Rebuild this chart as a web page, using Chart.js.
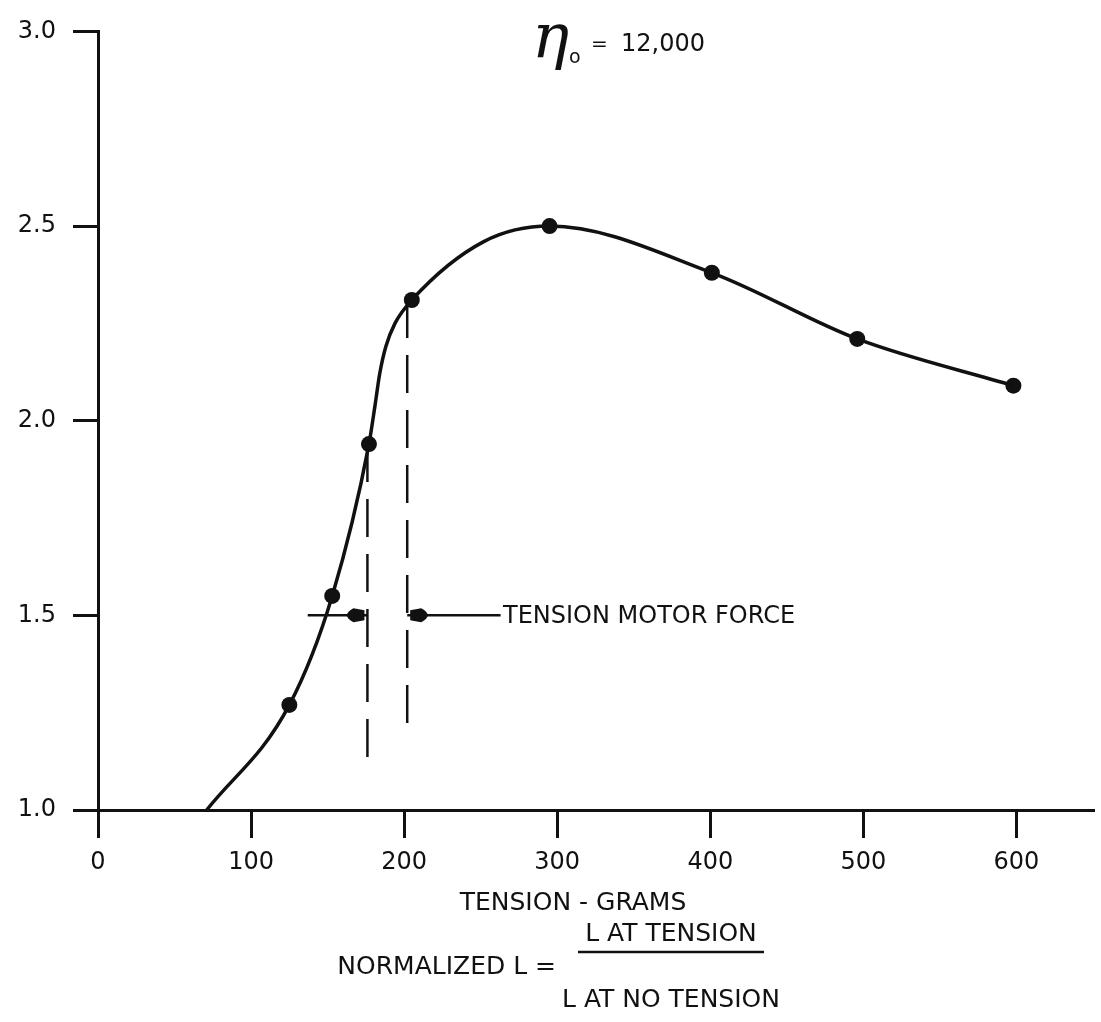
<!DOCTYPE html>
<html>
<head>
<meta charset="utf-8">
<script src="https://cdn.jsdelivr.net/npm/chart.js@4.4.1/dist/chart.umd.min.js"></script>
<style>
  html, body { margin: 0; padding: 0; background: #fff; }
</style>
</head>
<body>
<canvas id="tensionChart" width="1101" height="1022"></canvas>
<script>
// measured points (dots)
const tension = [125, 153, 177, 205, 295, 401, 496, 598];
const normalizedL = [1.27, 1.55, 1.94, 2.31, 2.50, 2.38, 2.21, 2.09];

// faired curve
const curveTension = [71, 125, 153, 177, 181, 184, 188, 194, 205, 252, 295, 401, 496, 598];
const curveL = [1.00, 1.27, 1.55, 1.94, 2.04, 2.12, 2.19, 2.25, 2.31, 2.46, 2.50, 2.38, 2.21, 2.09];

const xTicks = [0, 100, 200, 300, 400, 500, 600];
const yTicks = [1.0, 1.5, 2.0, 2.5, 3.0];

// tension motor force markers
const markerTension = [176, 202];
const markerTop = [1.94, 2.31];
const markerBottom = [1.12, 1.19];
const arrowLevel = 1.5;
const arrowFrom = [137, 263];
const arrowTo = [176, 202];

const INK = '#111';
const FONT = '"DejaVu Sans", sans-serif';

const datasets = [
  {
    data: curveTension.map((x, i) => ({ x: x, y: curveL[i] })),
    borderColor: INK,
    borderWidth: 3.5,
    pointRadius: 0,
    cubicInterpolationMode: 'monotone',
    fill: false
  },
  {
    data: tension.map((x, i) => ({ x: x, y: normalizedL[i] })),
    showLine: false,
    pointRadius: 8,
    pointBackgroundColor: INK,
    pointBorderWidth: 0
  }
];

markerTension.forEach((x, i) => {
  datasets.push({
    data: [{ x: x, y: markerTop[i] }, { x: x, y: markerBottom[i] }],
    borderColor: INK,
    borderWidth: 2.5,
    borderDash: [38, 17],
    pointRadius: 0
  });
});

arrowFrom.forEach((x, i) => {
  datasets.push({
    data: [{ x: x, y: arrowLevel }, { x: arrowTo[i], y: arrowLevel }],
    borderColor: INK,
    borderWidth: 2.5,
    pointRadius: 0
  });
});

const annotations = {
  id: 'annotations',
  afterDatasetsDraw(chart) {
    const ctx = chart.ctx;
    const xs = chart.scales.x;
    const ys = chart.scales.y;
    ctx.save();
    ctx.fillStyle = INK;
    ctx.strokeStyle = INK;

    // arrow heads
    arrowFrom.forEach((x, i) => {
      const dir = arrowTo[i] > x ? 1 : -1;
      const tx = xs.getPixelForValue(arrowTo[i]) - dir * 3;
      const ty = ys.getPixelForValue(arrowLevel);
      ctx.beginPath();
      ctx.moveTo(tx, ty - 5);
      ctx.lineTo(tx, ty + 5);
      ctx.lineTo(tx - dir * 11, ty + 7);
      ctx.quadraticCurveTo(tx - dir * 24, ty, tx - dir * 11, ty - 7);
      ctx.closePath();
      ctx.fill();
    });

    ctx.textBaseline = 'middle';
    ctx.textAlign = 'left';
    ctx.font = '24px ' + FONT;
    ctx.fillText('TENSION MOTOR FORCE', 503, ys.getPixelForValue(arrowLevel) + 1);

    // eta_0 = 12,000
    ctx.font = 'italic 62px "DejaVu Serif", serif';
    ctx.textBaseline = 'alphabetic';
    ctx.fillText('\u03B7', 532, 57);
    ctx.font = '19px ' + FONT;
    ctx.fillText('o', 569, 63);
    ctx.font = '20px ' + FONT;
    ctx.fillText('=', 591, 50);
    ctx.font = '24px ' + FONT;
    ctx.fillText('12,000', 621, 51);

    // axis title and definition
    ctx.font = '25px ' + FONT;
    ctx.textBaseline = 'middle';
    ctx.textAlign = 'center';
    ctx.fillText('TENSION - GRAMS', 573, 903);
    ctx.fillText('L AT TENSION', 671, 934);
    ctx.fillText('L AT NO TENSION', 671, 1000);
    ctx.textAlign = 'right';
    ctx.fillText('NORMALIZED L =', 556, 967);

    ctx.lineWidth = 2.5;
    ctx.beginPath();
    ctx.moveTo(578, 952);
    ctx.lineTo(764, 952);
    ctx.stroke();

    ctx.restore();
  }
};

const ctx = document.getElementById('tensionChart').getContext('2d');
new Chart(ctx, {
  type: 'line',
  data: { datasets: datasets },
  plugins: [annotations],
  options: {
    responsive: false,
    animation: false,
    devicePixelRatio: 1,
    layout: { padding: { top: 19, right: 4, left: 0, bottom: 0 } },
    plugins: {
      legend: { display: false },
      tooltip: { enabled: false }
    },
    scales: {
      x: {
        type: 'linear',
        min: 0,
        max: 650,
        afterBuildTicks: s => { s.ticks = xTicks.map(v => ({ value: v })); },
        afterFit: s => { s.height = 212; },
        grid: { drawOnChartArea: false, drawTicks: true, tickLength: 28, color: INK, lineWidth: 3 },
        border: { display: true, color: INK, width: 3 },
        ticks: { color: INK, font: { family: FONT, size: 24 }, padding: 10, maxRotation: 0 }
      },
      y: {
        min: 1,
        max: 3,
        afterBuildTicks: s => { s.ticks = yTicks.map(v => ({ value: v })); },
        afterFit: s => { s.width = 98; },
        grid: { drawOnChartArea: false, drawTicks: true, tickLength: 25, color: INK, lineWidth: 3 },
        border: { display: true, color: INK, width: 3 },
        ticks: { color: INK, font: { family: FONT, size: 24 }, padding: 17, callback: v => v.toFixed(1) }
      }
    }
  }
});
</script>
</body>
</html>
